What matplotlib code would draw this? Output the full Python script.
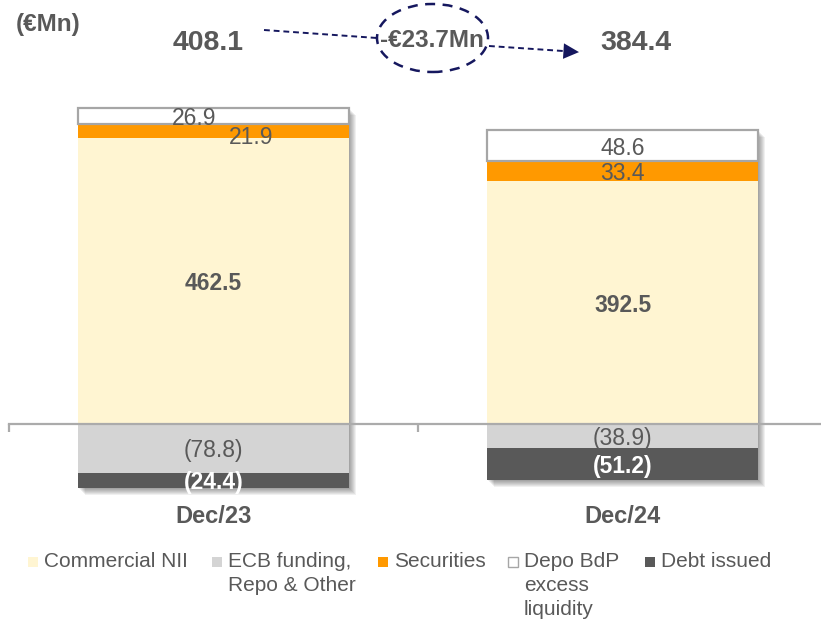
import matplotlib
matplotlib.use("Agg")
import matplotlib.pyplot as plt
import matplotlib.transforms as mtrans
from matplotlib.patches import Ellipse, FancyArrowPatch, Rectangle
from matplotlib.lines import Line2D

plt.rcParams['font.family'] = ['Liberation Sans', 'DejaVu Sans']

# data (€Mn)
periods = ["Dec/23", "Dec/24"]
commercial_nii = [462.5, 392.5]
securities = [21.9, 33.4]
depo_bdp = [26.9, 48.6]
ecb_funding = [-78.8, -38.9]
debt_issued = [-24.4, -51.2]
total_start = 408.1
total_end = 384.4
change_label = "-€23.7Mn"

legend_labels = ["Commercial NII", "ECB funding,\nRepo & Other", "Securities",
                 "Depo BdP\nexcess\nliquidity", "Debt issued"]

c_comm = "#FFF5D2"
c_ecb = "#D4D4D4"
c_sec = "#FF9900"
c_depo = "#FFFFFF"
c_debt = "#595959"
c_text = "#595959"
c_axis = "#ABABAB"
c_navy = "#15175E"

W, H = 821, 620
fig = plt.figure(figsize=(W / 100, H / 100), dpi=100)

def fx(px):
    return px / W

def fy(py):
    return 1 - py / H

# axes placement: baseline at y=424 px, 0.6186 px per unit
ppu = 0.6186
ylo, yhi = -120, 530
bottom_px = 424 + (-ylo) * ppu
ax = fig.add_axes([fx(9), (H - bottom_px) / H, 818 / W, (yhi - ylo) * ppu / H])
ax.set_xlim(-0.5, 1.5)
ax.set_ylim(ylo, yhi)
ax.patch.set_visible(False)

x = list(range(len(periods)))
bw = 271 / 409

# soft shadow behind each whole bar
pos_tot = [a + b + c for a, b, c in zip(commercial_nii, securities, depo_bdp)]
neg_tot = [a + b for a, b in zip(ecb_funding, debt_issued)]
for k in range(1, 8):
    off = mtrans.ScaledTranslation(k / 100, -k / 100, fig.dpi_scale_trans)
    ax.bar(x, [p - n for p, n in zip(pos_tot, neg_tot)], bw, bottom=neg_tot,
           color="black", alpha=0.06, linewidth=0, zorder=0.5,
           transform=ax.transData + off)

ax.bar(x, commercial_nii, bw, color=c_comm, zorder=1)
ax.bar(x, securities, bw, bottom=commercial_nii, color=c_sec, zorder=1)
bot_depo = [a + b for a, b in zip(commercial_nii, securities)]
ax.bar(x, depo_bdp, bw, bottom=bot_depo, color=c_depo, edgecolor="#A6A6A6",
       linewidth=1.6, zorder=1)
ax.bar(x, ecb_funding, bw, color=c_ecb, zorder=1)
ax.bar(x, debt_issued, bw, bottom=ecb_funding, color=c_debt, zorder=1)

# axis line at zero with boundary ticks
for s in ["left", "right", "top"]:
    ax.spines[s].set_visible(False)
ax.spines["bottom"].set_position(("data", 0))
ax.spines["bottom"].set_color(c_axis)
ax.spines["bottom"].set_linewidth(1.6)
ax.spines["bottom"].set_zorder(3)
ax.set_yticks([])
ax.set_xticks([])
ax.set_xticks([-0.5, 0.5, 1.5], minor=True)
ax.tick_params(axis="x", which="minor", direction="out", length=5.8, width=1.6,
               color=c_axis)

# segment labels
def seg_label(i, y, val, bold=False, color=c_text, dx=0, dy=0):
    txt = f"({abs(val):.1f})" if val < 0 else f"{val:.1f}"
    ax.annotate(txt, (i, y), xytext=(dx, dy), textcoords="offset points",
                ha="center", va="center_baseline", fontsize=16.5,
                fontweight="bold" if bold else "normal", color=color, zorder=5)

for i in x:
    seg_label(i, commercial_nii[i] / 2, commercial_nii[i], bold=True)
    seg_label(i, commercial_nii[i] + securities[i] / 2, securities[i],
              dx=27 if i == 0 else 0, dy=-3 if i == 0 else 0)
    seg_label(i, bot_depo[i] + depo_bdp[i] / 2, depo_bdp[i],
              dx=-14 if i == 0 else 0)
    seg_label(i, ecb_funding[i] / 2, ecb_funding[i])
    seg_label(i, ecb_funding[i] + debt_issued[i] / 2, debt_issued[i],
              bold=True, color="white")

# category labels
tr = mtrans.blended_transform_factory(ax.transData, fig.transFigure)
for i, p in zip(x, periods):
    ax.text(i, fy(523), p, transform=tr, ha="center", va="baseline",
            fontsize=17, fontweight="bold", color=c_text)

# header
fig.text(fx(16), fy(31), "(€Mn)", ha="left", va="baseline", fontsize=17.5,
         fontweight="bold", color=c_text)
fig.text(fx(208), fy(50), f"{total_start:.1f}", ha="center", va="baseline",
         fontsize=20.5, fontweight="bold", color=c_text)
fig.text(fx(636), fy(50), f"{total_end:.1f}", ha="center", va="baseline",
         fontsize=20.5, fontweight="bold", color=c_text)
fig.text(fx(432), fy(47), change_label, ha="center", va="baseline",
         fontsize=17.5, fontweight="bold", color=c_text)

fig.add_artist(Ellipse((fx(432.5), fy(38)), 111 / W, 68 / H,
                       transform=fig.transFigure, fill=False, edgecolor=c_navy,
                       linewidth=1.8, linestyle=(0, (4, 3))))
fig.add_artist(Line2D([fx(264), fx(377)], [fy(30), fy(38)], color=c_navy,
                      linewidth=1.4, linestyle=(0, (3, 2))))
fig.add_artist(Line2D([fx(489), fx(566)], [fy(46), fy(51.2)], color=c_navy,
                      linewidth=1.4, linestyle=(0, (3, 2))))
fig.add_artist(FancyArrowPatch((fx(562), fy(51)), (fx(579), fy(52.1)),
                               transform=fig.transFigure,
                               arrowstyle="-|>,head_length=0.8,head_width=0.4",
                               mutation_scale=14, color=c_navy, linewidth=0,
                               shrinkA=0, shrinkB=0))

# legend
leg_colors = [c_comm, c_ecb, c_sec, c_depo, c_debt]
leg_x = [28, 212, 378, 508, 645]
for lx, col, lab in zip(leg_x, leg_colors, legend_labels):
    fig.add_artist(Rectangle((fx(lx), fy(567)), 10 / W, 10 / H,
                             transform=fig.transFigure, facecolor=col,
                             edgecolor="#A6A6A6" if col == c_depo else "none",
                             linewidth=1))
    fig.text(fx(lx + 16), fy(552), lab, ha="left", va="top", fontsize=15,
             color=c_text, linespacing=1.33)

fig.savefig("out.png", dpi=100)
